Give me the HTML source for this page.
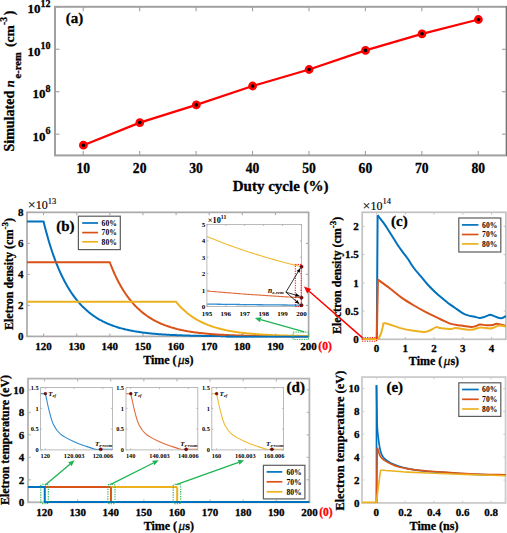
<!DOCTYPE html>
<html><head><meta charset="utf-8"><style>
html,body{margin:0;padding:0;background:#fff;}
body{width:507px;height:533px;overflow:hidden;font-family:"Liberation Serif",serif;}
svg{display:block;}
text{stroke-width:0.3px;stroke-linejoin:round;}
text:not([stroke]){stroke:#000;}
</style></head><body>
<svg width="507" height="533" viewBox="0 0 507 533" font-family="Liberation Serif, serif"><line x1="83.22" y1="155.4" x2="83.22" y2="150.9" stroke="#a0a0a0" stroke-width="1.1" />
<line x1="83.22" y1="6.8" x2="83.22" y2="11.3" stroke="#a0a0a0" stroke-width="1.1" />
<line x1="139.66" y1="155.4" x2="139.66" y2="150.9" stroke="#a0a0a0" stroke-width="1.1" />
<line x1="139.66" y1="6.8" x2="139.66" y2="11.3" stroke="#a0a0a0" stroke-width="1.1" />
<line x1="196.09" y1="155.4" x2="196.09" y2="150.9" stroke="#a0a0a0" stroke-width="1.1" />
<line x1="196.09" y1="6.8" x2="196.09" y2="11.3" stroke="#a0a0a0" stroke-width="1.1" />
<line x1="252.53" y1="155.4" x2="252.53" y2="150.9" stroke="#a0a0a0" stroke-width="1.1" />
<line x1="252.53" y1="6.8" x2="252.53" y2="11.3" stroke="#a0a0a0" stroke-width="1.1" />
<line x1="308.97" y1="155.4" x2="308.97" y2="150.9" stroke="#a0a0a0" stroke-width="1.1" />
<line x1="308.97" y1="6.8" x2="308.97" y2="11.3" stroke="#a0a0a0" stroke-width="1.1" />
<line x1="365.41" y1="155.4" x2="365.41" y2="150.9" stroke="#a0a0a0" stroke-width="1.1" />
<line x1="365.41" y1="6.8" x2="365.41" y2="11.3" stroke="#a0a0a0" stroke-width="1.1" />
<line x1="421.84" y1="155.4" x2="421.84" y2="150.9" stroke="#a0a0a0" stroke-width="1.1" />
<line x1="421.84" y1="6.8" x2="421.84" y2="11.3" stroke="#a0a0a0" stroke-width="1.1" />
<line x1="478.28" y1="155.4" x2="478.28" y2="150.9" stroke="#a0a0a0" stroke-width="1.1" />
<line x1="478.28" y1="6.8" x2="478.28" y2="11.3" stroke="#a0a0a0" stroke-width="1.1" />
<line x1="55" y1="134.17" x2="59.5" y2="134.17" stroke="#a0a0a0" stroke-width="1.1" />
<line x1="506.5" y1="134.17" x2="502" y2="134.17" stroke="#a0a0a0" stroke-width="1.1" />
<line x1="55" y1="91.71" x2="59.5" y2="91.71" stroke="#a0a0a0" stroke-width="1.1" />
<line x1="506.5" y1="91.71" x2="502" y2="91.71" stroke="#a0a0a0" stroke-width="1.1" />
<line x1="55" y1="49.26" x2="59.5" y2="49.26" stroke="#a0a0a0" stroke-width="1.1" />
<line x1="506.5" y1="49.26" x2="502" y2="49.26" stroke="#a0a0a0" stroke-width="1.1" />
<line x1="55" y1="6.8" x2="59.5" y2="6.8" stroke="#a0a0a0" stroke-width="1.1" />
<line x1="506.5" y1="6.8" x2="502" y2="6.8" stroke="#a0a0a0" stroke-width="1.1" />
<rect x="55" y="6.8" width="451.5" height="148.6" fill="none" stroke="#a0a0a0" stroke-width="2.0" />
<line x1="506.5" y1="6" x2="506.5" y2="156.2" stroke="#747474" stroke-width="1" />
<text x="83.22" y="172.9" font-size="13.6" text-anchor="middle" font-weight="bold" font-style="normal" fill="#000" stroke="#000" >10</text>
<text x="139.66" y="172.9" font-size="13.6" text-anchor="middle" font-weight="bold" font-style="normal" fill="#000" stroke="#000" >20</text>
<text x="196.09" y="172.9" font-size="13.6" text-anchor="middle" font-weight="bold" font-style="normal" fill="#000" stroke="#000" >30</text>
<text x="252.53" y="172.9" font-size="13.6" text-anchor="middle" font-weight="bold" font-style="normal" fill="#000" stroke="#000" >40</text>
<text x="308.97" y="172.9" font-size="13.6" text-anchor="middle" font-weight="bold" font-style="normal" fill="#000" stroke="#000" >50</text>
<text x="365.41" y="172.9" font-size="13.6" text-anchor="middle" font-weight="bold" font-style="normal" fill="#000" stroke="#000" >60</text>
<text x="421.84" y="172.9" font-size="13.6" text-anchor="middle" font-weight="bold" font-style="normal" fill="#000" stroke="#000" >70</text>
<text x="478.28" y="172.9" font-size="13.6" text-anchor="middle" font-weight="bold" font-style="normal" fill="#000" stroke="#000" >80</text>
<text x="50.6" y="140.77" font-size="13" text-anchor="end" font-weight="bold">10<tspan font-size="10" dy="-6.8">6</tspan></text>
<text x="50.6" y="98.31" font-size="13" text-anchor="end" font-weight="bold">10<tspan font-size="10" dy="-6.8">8</tspan></text>
<text x="50.6" y="55.86" font-size="13" text-anchor="end" font-weight="bold">10<tspan font-size="10" dy="-6.8">10</tspan></text>
<text x="50.6" y="13.4" font-size="13" text-anchor="end" font-weight="bold">10<tspan font-size="10" dy="-6.8">12</tspan></text>
<text x="280.7" y="191.2" font-size="15" text-anchor="middle" font-weight="bold" font-style="normal" fill="#000" stroke="#000" >Duty cycle (%)</text>
<polyline points="83.4,145.2 139.8,122.6 196.3,104.9 252.6,86 309.1,69.5 365.5,50.4 422,33.8 478.4,19.5" fill="none" stroke="#FF0000" stroke-width="2.3" stroke-linejoin="round" stroke-linecap="butt" />
<circle cx="83.4" cy="145.2" r="3.1" fill="#000" stroke="#FF0000" stroke-width="2.6"/>
<circle cx="139.8" cy="122.6" r="3.1" fill="#000" stroke="#FF0000" stroke-width="2.6"/>
<circle cx="196.3" cy="104.9" r="3.1" fill="#000" stroke="#FF0000" stroke-width="2.6"/>
<circle cx="252.6" cy="86" r="3.1" fill="#000" stroke="#FF0000" stroke-width="2.6"/>
<circle cx="309.1" cy="69.5" r="3.1" fill="#000" stroke="#FF0000" stroke-width="2.6"/>
<circle cx="365.5" cy="50.4" r="3.1" fill="#000" stroke="#FF0000" stroke-width="2.6"/>
<circle cx="422" cy="33.8" r="3.1" fill="#000" stroke="#FF0000" stroke-width="2.6"/>
<circle cx="478.4" cy="19.5" r="3.1" fill="#000" stroke="#FF0000" stroke-width="2.6"/>
<text x="65.8" y="22.7" font-size="15" text-anchor="start" font-weight="bold" font-style="normal" fill="#000" stroke="#000" >(a)</text>
<text transform="translate(14.1,151.5) rotate(-90)" font-size="14" font-weight="bold" font-style="normal">Simulated</text>
<text transform="translate(14.1,87.3) rotate(-90)" font-size="12.5" font-weight="bold" font-style="italic">n</text>
<text transform="translate(20.6,78.4) rotate(-90)" font-size="10.5" font-weight="bold" font-style="normal">e-rem</text>
<text transform="translate(14,47) rotate(-90)" font-size="13.5" font-weight="bold" font-style="normal">(cm</text>
<text transform="translate(7.4,25) rotate(-90)" font-size="9.5" font-weight="bold" font-style="normal">-3</text>
<text transform="translate(14,15.3) rotate(-90)" font-size="14" font-weight="bold" font-style="normal">)</text>
<line x1="43.56" y1="336.4" x2="43.56" y2="333.6" stroke="#aaaaaa" stroke-width="1.1" />
<line x1="43.56" y1="212.35" x2="43.56" y2="215.15" stroke="#aaaaaa" stroke-width="1.1" />
<line x1="76.69" y1="336.4" x2="76.69" y2="333.6" stroke="#aaaaaa" stroke-width="1.1" />
<line x1="76.69" y1="212.35" x2="76.69" y2="215.15" stroke="#aaaaaa" stroke-width="1.1" />
<line x1="109.82" y1="336.4" x2="109.82" y2="333.6" stroke="#aaaaaa" stroke-width="1.1" />
<line x1="109.82" y1="212.35" x2="109.82" y2="215.15" stroke="#aaaaaa" stroke-width="1.1" />
<line x1="142.95" y1="336.4" x2="142.95" y2="333.6" stroke="#aaaaaa" stroke-width="1.1" />
<line x1="142.95" y1="212.35" x2="142.95" y2="215.15" stroke="#aaaaaa" stroke-width="1.1" />
<line x1="176.08" y1="336.4" x2="176.08" y2="333.6" stroke="#aaaaaa" stroke-width="1.1" />
<line x1="176.08" y1="212.35" x2="176.08" y2="215.15" stroke="#aaaaaa" stroke-width="1.1" />
<line x1="209.21" y1="336.4" x2="209.21" y2="333.6" stroke="#aaaaaa" stroke-width="1.1" />
<line x1="209.21" y1="212.35" x2="209.21" y2="215.15" stroke="#aaaaaa" stroke-width="1.1" />
<line x1="242.34" y1="336.4" x2="242.34" y2="333.6" stroke="#aaaaaa" stroke-width="1.1" />
<line x1="242.34" y1="212.35" x2="242.34" y2="215.15" stroke="#aaaaaa" stroke-width="1.1" />
<line x1="275.47" y1="336.4" x2="275.47" y2="333.6" stroke="#aaaaaa" stroke-width="1.1" />
<line x1="275.47" y1="212.35" x2="275.47" y2="215.15" stroke="#aaaaaa" stroke-width="1.1" />
<line x1="308.6" y1="336.4" x2="308.6" y2="333.6" stroke="#aaaaaa" stroke-width="1.1" />
<line x1="308.6" y1="212.35" x2="308.6" y2="215.15" stroke="#aaaaaa" stroke-width="1.1" />
<line x1="27" y1="336.4" x2="29.8" y2="336.4" stroke="#aaaaaa" stroke-width="1.1" />
<line x1="308.6" y1="336.4" x2="305.8" y2="336.4" stroke="#aaaaaa" stroke-width="1.1" />
<line x1="27" y1="305.39" x2="29.8" y2="305.39" stroke="#aaaaaa" stroke-width="1.1" />
<line x1="308.6" y1="305.39" x2="305.8" y2="305.39" stroke="#aaaaaa" stroke-width="1.1" />
<line x1="27" y1="274.38" x2="29.8" y2="274.38" stroke="#aaaaaa" stroke-width="1.1" />
<line x1="308.6" y1="274.38" x2="305.8" y2="274.38" stroke="#aaaaaa" stroke-width="1.1" />
<line x1="27" y1="243.36" x2="29.8" y2="243.36" stroke="#aaaaaa" stroke-width="1.1" />
<line x1="308.6" y1="243.36" x2="305.8" y2="243.36" stroke="#aaaaaa" stroke-width="1.1" />
<line x1="27" y1="212.35" x2="29.8" y2="212.35" stroke="#aaaaaa" stroke-width="1.1" />
<line x1="308.6" y1="212.35" x2="305.8" y2="212.35" stroke="#aaaaaa" stroke-width="1.1" />
<rect x="27" y="212.35" width="281.6" height="124.05" fill="none" stroke="#aaaaaa" stroke-width="1.7" />
<polyline points="27,221.56 43.56,221.56 44.39,224.92 45.22,228.18 46.05,231.33 46.88,234.37 47.71,237.33 48.53,240.19 49.36,242.96 50.19,245.64 51.02,248.24 51.85,250.76 52.68,253.21 53.5,255.58 54.33,257.87 55.16,260.1 55.99,262.27 56.82,264.36 57.64,266.4 58.47,268.37 59.3,270.29 60.13,272.15 60.96,273.96 61.79,275.71 62.61,277.41 63.44,279.07 64.27,280.67 65.1,282.23 65.93,283.74 66.76,285.22 67.58,286.64 68.41,288.03 69.24,289.38 70.07,290.69 70.9,291.96 71.72,293.2 72.55,294.4 73.38,295.57 74.21,296.7 75.04,297.8 75.87,298.87 76.69,299.92 77.52,300.93 78.35,301.91 79.18,302.87 80.01,303.8 80.84,304.7 81.66,305.58 82.49,306.43 83.32,307.26 84.15,308.07 84.98,308.85 85.8,309.62 86.63,310.36 87.46,311.08 88.29,311.78 89.12,312.46 89.95,313.12 90.77,313.77 91.6,314.39 92.43,315 93.26,315.59 94.09,316.17 94.92,316.73 95.74,317.27 96.57,317.8 97.4,318.32 98.23,318.82 99.06,319.3 99.88,319.78 100.71,320.24 101.54,320.68 102.37,321.12 103.2,321.54 104.03,321.95 104.85,322.35 105.68,322.74 106.51,323.12 107.34,323.49 108.17,323.84 109,324.19 109.82,324.53 110.65,324.86 111.48,325.18 112.31,325.49 113.14,325.79 113.96,326.08 114.79,326.37 115.62,326.65 116.45,326.92 117.28,327.18 118.11,327.43 118.93,327.68 119.76,327.92 120.59,328.16 121.42,328.39 122.25,328.61 123.08,328.83 123.9,329.04 124.73,329.24 125.56,329.44 126.39,329.63 127.22,329.82 128.04,330 128.87,330.18 129.7,330.35 130.53,330.52 131.36,330.68 132.19,330.84 133.01,330.99 133.84,331.14 134.67,331.29 135.5,331.43 136.33,331.57 137.16,331.7 137.98,331.83 138.81,331.96 139.64,332.08 140.47,332.2 141.3,332.32 142.12,332.43 142.95,332.54 143.78,332.65 144.61,332.76 145.44,332.86 146.27,332.95 147.09,333.05 147.92,333.14 148.75,333.23 149.58,333.32 150.41,333.41 151.24,333.49 152.06,333.57 152.89,333.65 153.72,333.73 154.55,333.8 155.38,333.87 156.2,333.94 157.03,334.01 157.86,334.08 158.69,334.14 159.52,334.2 160.35,334.27 161.17,334.33 162,334.38 162.83,334.44 163.66,334.49 164.49,334.55 165.32,334.6 166.14,334.65 166.97,334.7 167.8,334.74 168.63,334.79 169.46,334.84 170.28,334.88 171.11,334.92 171.94,334.96 172.77,335 173.6,335.04 174.43,335.08 175.25,335.12 176.08,335.15 176.91,335.19 177.74,335.22 178.57,335.25 179.4,335.28 180.22,335.32 181.05,335.35 181.88,335.37 182.71,335.4 183.54,335.43 184.36,335.46 185.19,335.48 186.02,335.51 186.85,335.53 187.68,335.56 188.51,335.58 189.33,335.6 190.16,335.63 190.99,335.65 191.82,335.67 192.65,335.69 193.48,335.71 194.3,335.73 195.13,335.75 195.96,335.77 196.79,335.78 197.62,335.8 198.44,335.82 199.27,335.83 200.1,335.85 200.93,335.86 201.76,335.88 202.59,335.89 203.41,335.91 204.24,335.92 205.07,335.93 205.9,335.95 206.73,335.96 207.56,335.97 208.38,335.98 209.21,336 210.04,336.01 210.87,336.02 211.7,336.03 212.52,336.04 213.35,336.05 214.18,336.06 215.01,336.07 215.84,336.08 216.67,336.09 217.49,336.1 218.32,336.1 219.15,336.11 219.98,336.12 220.81,336.13 221.64,336.14 222.46,336.14 223.29,336.15 224.12,336.16 224.95,336.16 225.78,336.17 226.6,336.18 227.43,336.18 228.26,336.19 229.09,336.19 229.92,336.2 230.75,336.21 231.57,336.21 232.4,336.22 233.23,336.22 234.06,336.23 234.89,336.23 235.72,336.24 236.54,336.24 237.37,336.25 238.2,336.25 239.03,336.25 239.86,336.26 240.68,336.26 241.51,336.27 242.34,336.27 243.17,336.27 244,336.28 244.83,336.28 245.65,336.28 246.48,336.29 247.31,336.29 248.14,336.29 248.97,336.3 249.8,336.3 250.62,336.3 251.45,336.3 252.28,336.31 253.11,336.31 253.94,336.31 254.76,336.31 255.59,336.32 256.42,336.32 257.25,336.32 258.08,336.32 258.91,336.33 259.73,336.33 260.56,336.33 261.39,336.33 262.22,336.33 263.05,336.34 263.88,336.34 264.7,336.34 265.53,336.34 266.36,336.34 267.19,336.34 268.02,336.35 268.84,336.35 269.67,336.35 270.5,336.35 271.33,336.35 272.16,336.35 272.99,336.35 273.81,336.36 274.64,336.36 275.47,336.36 276.3,336.36 277.13,336.36 277.96,336.36 278.78,336.36 279.61,336.36 280.44,336.36 281.27,336.37 282.1,336.37 282.92,336.37 283.75,336.37 284.58,336.37 285.41,336.37 286.24,336.37 287.07,336.37 287.89,336.37 288.72,336.37 289.55,336.37 290.38,336.37 291.21,336.38 292.04,336.38 292.86,336.38 293.69,336.38 294.52,336.38 295.35,336.38 296.18,336.38 297,336.38 297.83,336.38 298.66,336.38 299.49,336.38 300.32,336.38 301.15,336.38 301.97,336.38 302.8,336.38 303.63,336.38 304.46,336.38 305.29,336.38 306.12,336.39 306.94,336.39 307.77,336.39 308.6,336.39" fill="none" stroke="#0072BD" stroke-width="2" stroke-linejoin="round" stroke-linecap="butt" />
<polyline points="27,262.34 109.82,262.34 110.65,264.51 111.48,266.61 112.31,268.64 113.14,270.61 113.96,272.51 114.79,274.35 115.62,276.14 116.45,277.87 117.28,279.55 118.11,281.17 118.93,282.75 119.76,284.28 120.59,285.76 121.42,287.2 122.25,288.59 123.08,289.94 123.9,291.26 124.73,292.53 125.56,293.77 126.39,294.97 127.22,296.13 128.04,297.26 128.87,298.36 129.7,299.43 130.53,300.46 131.36,301.47 132.19,302.44 133.01,303.39 133.84,304.31 134.67,305.21 135.5,306.08 136.33,306.92 137.16,307.74 137.98,308.54 138.81,309.31 139.64,310.07 140.47,310.8 141.3,311.51 142.12,312.2 142.95,312.87 143.78,313.52 144.61,314.16 145.44,314.78 146.27,315.37 147.09,315.96 147.92,316.52 148.75,317.07 149.58,317.61 150.41,318.13 151.24,318.64 152.06,319.13 152.89,319.61 153.72,320.07 154.55,320.52 155.38,320.96 156.2,321.39 157.03,321.8 157.86,322.21 158.69,322.6 159.52,322.98 160.35,323.35 161.17,323.71 162,324.06 162.83,324.41 163.66,324.74 164.49,325.06 165.32,325.37 166.14,325.68 166.97,325.98 167.8,326.26 168.63,326.54 169.46,326.82 170.28,327.08 171.11,327.34 171.94,327.59 172.77,327.83 173.6,328.07 174.43,328.3 175.25,328.53 176.08,328.74 176.91,328.96 177.74,329.16 178.57,329.36 179.4,329.56 180.22,329.75 181.05,329.93 181.88,330.11 182.71,330.28 183.54,330.45 184.36,330.62 185.19,330.78 186.02,330.93 186.85,331.09 187.68,331.23 188.51,331.38 189.33,331.52 190.16,331.65 190.99,331.78 191.82,331.91 192.65,332.03 193.48,332.16 194.3,332.27 195.13,332.39 195.96,332.5 196.79,332.61 197.62,332.71 198.44,332.81 199.27,332.91 200.1,333.01 200.93,333.1 201.76,333.2 202.59,333.29 203.41,333.37 204.24,333.46 205.07,333.54 205.9,333.62 206.73,333.69 207.56,333.77 208.38,333.84 209.21,333.91 210.04,333.98 210.87,334.05 211.7,334.11 212.52,334.18 213.35,334.24 214.18,334.3 215.01,334.36 215.84,334.41 216.67,334.47 217.49,334.52 218.32,334.58 219.15,334.63 219.98,334.68 220.81,334.72 221.64,334.77 222.46,334.82 223.29,334.86 224.12,334.9 224.95,334.94 225.78,334.98 226.6,335.02 227.43,335.06 228.26,335.1 229.09,335.14 229.92,335.17 230.75,335.2 231.57,335.24 232.4,335.27 233.23,335.3 234.06,335.33 234.89,335.36 235.72,335.39 236.54,335.42 237.37,335.45 238.2,335.47 239.03,335.5 239.86,335.52 240.68,335.55 241.51,335.57 242.34,335.59 243.17,335.62 244,335.64 244.83,335.66 245.65,335.68 246.48,335.7 247.31,335.72 248.14,335.74 248.97,335.76 249.8,335.78 250.62,335.79 251.45,335.81 252.28,335.83 253.11,335.84 253.94,335.86 254.76,335.87 255.59,335.89 256.42,335.9 257.25,335.92 258.08,335.93 258.91,335.94 259.73,335.95 260.56,335.97 261.39,335.98 262.22,335.99 263.05,336 263.88,336.01 264.7,336.02 265.53,336.03 266.36,336.04 267.19,336.05 268.02,336.06 268.84,336.07 269.67,336.08 270.5,336.09 271.33,336.1 272.16,336.11 272.99,336.12 273.81,336.12 274.64,336.13 275.47,336.14 276.3,336.15 277.13,336.15 277.96,336.16 278.78,336.17 279.61,336.17 280.44,336.18 281.27,336.19 282.1,336.19 282.92,336.2 283.75,336.2 284.58,336.21 285.41,336.21 286.24,336.22 287.07,336.22 287.89,336.23 288.72,336.23 289.55,336.24 290.38,336.24 291.21,336.25 292.04,336.25 292.86,336.26 293.69,336.26 294.52,336.26 295.35,336.27 296.18,336.27 297,336.28 297.83,336.28 298.66,336.28 299.49,336.29 300.32,336.29 301.15,336.29 301.97,336.29 302.8,336.3 303.63,336.3 304.46,336.3 305.29,336.31 306.12,336.31 306.94,336.31 307.77,336.31 308.6,336.32" fill="none" stroke="#D95319" stroke-width="2" stroke-linejoin="round" stroke-linecap="butt" />
<polyline points="27,301.81 176.08,301.81 176.91,302.82 177.74,303.8 178.57,304.75 179.4,305.67 180.22,306.55 181.05,307.42 181.88,308.25 182.71,309.06 183.54,309.84 184.36,310.6 185.19,311.34 186.02,312.05 186.85,312.74 187.68,313.42 188.51,314.07 189.33,314.7 190.16,315.31 190.99,315.91 191.82,316.49 192.65,317.05 193.48,317.59 194.3,318.12 195.13,318.63 195.96,319.13 196.79,319.61 197.62,320.08 198.44,320.54 199.27,320.98 200.1,321.41 200.93,321.83 201.76,322.24 202.59,322.63 203.41,323.01 204.24,323.39 205.07,323.75 205.9,324.1 206.73,324.44 207.56,324.77 208.38,325.1 209.21,325.41 210.04,325.71 210.87,326.01 211.7,326.3 212.52,326.58 213.35,326.85 214.18,327.12 215.01,327.37 215.84,327.62 216.67,327.87 217.49,328.1 218.32,328.33 219.15,328.55 219.98,328.77 220.81,328.98 221.64,329.19 222.46,329.39 223.29,329.58 224.12,329.77 224.95,329.95 225.78,330.13 226.6,330.31 227.43,330.47 228.26,330.64 229.09,330.8 229.92,330.95 230.75,331.1 231.57,331.25 232.4,331.39 233.23,331.53 234.06,331.67 234.89,331.8 235.72,331.92 236.54,332.05 237.37,332.17 238.2,332.28 239.03,332.4 239.86,332.51 240.68,332.62 241.51,332.72 242.34,332.82 243.17,332.92 244,333.02 244.83,333.11 245.65,333.2 246.48,333.29 247.31,333.38 248.14,333.46 248.97,333.54 249.8,333.62 250.62,333.7 251.45,333.77 252.28,333.85 253.11,333.92 253.94,333.99 254.76,334.05 255.59,334.12 256.42,334.18 257.25,334.24 258.08,334.3 258.91,334.36 259.73,334.42 260.56,334.47 261.39,334.53 262.22,334.58 263.05,334.63 263.88,334.68 264.7,334.73 265.53,334.77 266.36,334.82 267.19,334.86 268.02,334.9 268.84,334.95 269.67,334.99 270.5,335.02 271.33,335.06 272.16,335.1 272.99,335.14 273.81,335.17 274.64,335.21 275.47,335.24 276.3,335.27 277.13,335.3 277.96,335.33 278.78,335.36 279.61,335.39 280.44,335.42 281.27,335.45 282.1,335.47 282.92,335.5 283.75,335.52 284.58,335.55 285.41,335.57 286.24,335.59 287.07,335.62 287.89,335.64 288.72,335.66 289.55,335.68 290.38,335.7 291.21,335.72 292.04,335.74 292.86,335.76 293.69,335.78 294.52,335.79 295.35,335.81 296.18,335.83 297,335.84 297.83,335.86 298.66,335.87 299.49,335.89 300.32,335.9 301.15,335.92 301.97,335.93 302.8,335.94 303.63,335.95 304.46,335.97 305.29,335.98 306.12,335.99 306.94,336 307.77,336.01 308.6,336.02" fill="none" stroke="#EDB120" stroke-width="2" stroke-linejoin="round" stroke-linecap="butt" />
<polyline points="225.78,336.47 227.43,336.48 229.09,336.49 230.75,336.51 232.4,336.52 234.06,336.53 235.72,336.54 237.37,336.55 239.03,336.55 240.68,336.56 242.34,336.57 244,336.58 245.65,336.58 247.31,336.59 248.97,336.6 250.62,336.6 252.28,336.61 253.94,336.61 255.59,336.62 257.25,336.62 258.91,336.63 260.56,336.63 262.22,336.63 263.88,336.64 265.53,336.64 267.19,336.64 268.84,336.65 270.5,336.65 272.16,336.65 273.81,336.66 275.47,336.66 277.13,336.66 278.78,336.66 280.44,336.66 282.1,336.67 283.75,336.67 285.41,336.67 287.07,336.67 288.72,336.67 290.38,336.67 292.04,336.68 293.69,336.68 295.35,336.68 297,336.68 298.66,336.68 300.32,336.68 301.97,336.68 303.63,336.68 305.29,336.68 306.94,336.69 308.6,336.69" fill="none" stroke="#0072BD" stroke-width="1.8" stroke-linejoin="round" stroke-linecap="butt" />
<text x="43.56" y="349.8" font-size="11" text-anchor="middle" font-weight="bold" font-style="normal" fill="#000" stroke="#000" >120</text>
<text x="76.69" y="349.8" font-size="11" text-anchor="middle" font-weight="bold" font-style="normal" fill="#000" stroke="#000" >130</text>
<text x="109.82" y="349.8" font-size="11" text-anchor="middle" font-weight="bold" font-style="normal" fill="#000" stroke="#000" >140</text>
<text x="142.95" y="349.8" font-size="11" text-anchor="middle" font-weight="bold" font-style="normal" fill="#000" stroke="#000" >150</text>
<text x="176.08" y="349.8" font-size="11" text-anchor="middle" font-weight="bold" font-style="normal" fill="#000" stroke="#000" >160</text>
<text x="209.21" y="349.8" font-size="11" text-anchor="middle" font-weight="bold" font-style="normal" fill="#000" stroke="#000" >170</text>
<text x="242.34" y="349.8" font-size="11" text-anchor="middle" font-weight="bold" font-style="normal" fill="#000" stroke="#000" >180</text>
<text x="275.47" y="349.8" font-size="11" text-anchor="middle" font-weight="bold" font-style="normal" fill="#000" stroke="#000" >190</text>
<text x="308.6" y="349.8" font-size="11" text-anchor="middle" font-weight="bold" font-style="normal" fill="#000" stroke="#000" >200</text>
<text x="23.4" y="340.2" font-size="11" text-anchor="end" font-weight="bold" font-style="normal" fill="#000" stroke="#000" >0</text>
<text x="23.4" y="309.19" font-size="11" text-anchor="end" font-weight="bold" font-style="normal" fill="#000" stroke="#000" >2</text>
<text x="23.4" y="278.18" font-size="11" text-anchor="end" font-weight="bold" font-style="normal" fill="#000" stroke="#000" >4</text>
<text x="23.4" y="247.16" font-size="11" text-anchor="end" font-weight="bold" font-style="normal" fill="#000" stroke="#000" >6</text>
<text x="23.4" y="216.15" font-size="11" text-anchor="end" font-weight="bold" font-style="normal" fill="#000" stroke="#000" >8</text>
<text x="318.3" y="350.1" font-size="11.6" text-anchor="start" font-weight="bold" font-style="normal" fill="#FF0000" stroke="#FF0000" >(0)</text>
<text x="27.9" y="209.2" font-size="12" font-weight="normal" style="stroke-width:0.15px"><tspan font-size="13.2">×</tspan><tspan dx="0.3">10</tspan><tspan font-size="8.5" dy="-5.6" dx="0">13</tspan></text>
<text x="56.2" y="231.3" font-size="15" text-anchor="start" font-weight="bold" font-style="normal" fill="#000" stroke="#000" >(b)</text>
<text x="168.3" y="363.9" font-size="12" text-anchor="middle" font-weight="bold" font-style="normal" fill="#000" stroke="#000" >Time (<tspan font-style="italic" font-weight="normal" font-size="13" dx="1.3">μ</tspan><tspan dx="0.3">s)</tspan></text>
<text transform="translate(13.0,330.0) rotate(-90)" font-size="12" font-weight="bold">Eletron density (cm<tspan font-size="9" dy="-5.4">-3</tspan><tspan dy="5.4">)</tspan></text>
<rect x="78.4" y="216.2" width="41.9" height="33.4" fill="#fff" stroke="#5c5c5c" stroke-width="1.2" />
<line x1="82.2" y1="223" x2="98.1" y2="223" stroke="#0072BD" stroke-width="1.7" />
<text x="101.6" y="225.7" font-size="7.6" text-anchor="start" font-weight="bold" font-style="normal" fill="#000" stroke="#000" style="stroke:none" style="stroke-width:0.2px">60%</text>
<line x1="82.2" y1="232.6" x2="98.1" y2="232.6" stroke="#D95319" stroke-width="1.7" />
<text x="101.6" y="235.3" font-size="7.6" text-anchor="start" font-weight="bold" font-style="normal" fill="#000" stroke="#000" style="stroke:none" style="stroke-width:0.2px">70%</text>
<line x1="82.2" y1="241.8" x2="98.1" y2="241.8" stroke="#EDB120" stroke-width="1.7" />
<text x="101.6" y="244.5" font-size="7.6" text-anchor="start" font-weight="bold" font-style="normal" fill="#000" stroke="#000" style="stroke:none" style="stroke-width:0.2px">80%</text>
<rect x="206.9" y="224.4" width="94.6" height="82.2" fill="#fff" stroke="none" stroke-width="0" />
<polyline points="206.9,304.06 208.79,304.09 210.68,304.12 212.58,304.14 214.47,304.17 216.36,304.2 218.25,304.23 220.14,304.25 222.04,304.28 223.93,304.3 225.82,304.33 227.71,304.36 229.6,304.38 231.5,304.41 233.39,304.43 235.28,304.46 237.17,304.48 239.06,304.5 240.96,304.53 242.85,304.55 244.74,304.57 246.63,304.6 248.52,304.62 250.42,304.64 252.31,304.66 254.2,304.68 256.09,304.71 257.98,304.73 259.88,304.75 261.77,304.77 263.66,304.79 265.55,304.81 267.44,304.83 269.34,304.85 271.23,304.87 273.12,304.89 275.01,304.91 276.9,304.93 278.8,304.95 280.69,304.96 282.58,304.98 284.47,305 286.36,305.02 288.26,305.04 290.15,305.05 292.04,305.07 293.93,305.09 295.82,305.11 297.72,305.12 299.61,305.14 301.5,305.16" fill="none" stroke="#2f8ad0" stroke-width="1.3" stroke-linejoin="round" stroke-linecap="butt" />
<polyline points="206.9,290.9 208.79,291.08 210.68,291.25 212.58,291.43 214.47,291.6 216.36,291.76 218.25,291.93 220.14,292.1 222.04,292.26 223.93,292.42 225.82,292.58 227.71,292.74 229.6,292.89 231.5,293.05 233.39,293.2 235.28,293.35 237.17,293.5 239.06,293.65 240.96,293.79 242.85,293.93 244.74,294.08 246.63,294.22 248.52,294.36 250.42,294.49 252.31,294.63 254.2,294.76 256.09,294.9 257.98,295.03 259.88,295.16 261.77,295.29 263.66,295.41 265.55,295.54 267.44,295.66 269.34,295.79 271.23,295.91 273.12,296.03 275.01,296.15 276.9,296.27 278.8,296.38 280.69,296.5 282.58,296.61 284.47,296.72 286.36,296.83 288.26,296.94 290.15,297.05 292.04,297.16 293.93,297.26 295.82,297.37 297.72,297.47 299.61,297.58 301.5,297.68" fill="none" stroke="#E06A3A" stroke-width="1.1" stroke-linejoin="round" stroke-linecap="butt" />
<polyline points="206.9,236.49 208.79,237.28 210.68,238.06 212.58,238.83 214.47,239.59 216.36,240.34 218.25,241.08 220.14,241.82 222.04,242.54 223.93,243.26 225.82,243.97 227.71,244.67 229.6,245.37 231.5,246.05 233.39,246.73 235.28,247.4 237.17,248.07 239.06,248.72 240.96,249.37 242.85,250.02 244.74,250.65 246.63,251.28 248.52,251.9 250.42,252.51 252.31,253.12 254.2,253.72 256.09,254.31 257.98,254.9 259.88,255.48 261.77,256.05 263.66,256.62 265.55,257.18 267.44,257.73 269.34,258.28 271.23,258.82 273.12,259.36 275.01,259.89 276.9,260.41 278.8,260.93 280.69,261.44 282.58,261.95 284.47,262.45 286.36,262.95 288.26,263.44 290.15,263.92 292.04,264.4 293.93,264.87 295.82,265.34 297.72,265.8 299.61,266.26 301.5,266.71" fill="none" stroke="#F0B933" stroke-width="1.1" stroke-linejoin="round" stroke-linecap="butt" />
<line x1="206.9" y1="306.6" x2="206.9" y2="305" stroke="#aaaaaa" stroke-width="0.8" />
<line x1="206.9" y1="224.4" x2="206.9" y2="226" stroke="#aaaaaa" stroke-width="0.8" />
<line x1="225.82" y1="306.6" x2="225.82" y2="305" stroke="#aaaaaa" stroke-width="0.8" />
<line x1="225.82" y1="224.4" x2="225.82" y2="226" stroke="#aaaaaa" stroke-width="0.8" />
<line x1="244.74" y1="306.6" x2="244.74" y2="305" stroke="#aaaaaa" stroke-width="0.8" />
<line x1="244.74" y1="224.4" x2="244.74" y2="226" stroke="#aaaaaa" stroke-width="0.8" />
<line x1="263.66" y1="306.6" x2="263.66" y2="305" stroke="#aaaaaa" stroke-width="0.8" />
<line x1="263.66" y1="224.4" x2="263.66" y2="226" stroke="#aaaaaa" stroke-width="0.8" />
<line x1="282.58" y1="306.6" x2="282.58" y2="305" stroke="#aaaaaa" stroke-width="0.8" />
<line x1="282.58" y1="224.4" x2="282.58" y2="226" stroke="#aaaaaa" stroke-width="0.8" />
<line x1="301.5" y1="306.6" x2="301.5" y2="305" stroke="#aaaaaa" stroke-width="0.8" />
<line x1="301.5" y1="224.4" x2="301.5" y2="226" stroke="#aaaaaa" stroke-width="0.8" />
<line x1="206.9" y1="306.6" x2="208.5" y2="306.6" stroke="#aaaaaa" stroke-width="0.8" />
<line x1="301.5" y1="306.6" x2="299.9" y2="306.6" stroke="#aaaaaa" stroke-width="0.8" />
<line x1="206.9" y1="290.16" x2="208.5" y2="290.16" stroke="#aaaaaa" stroke-width="0.8" />
<line x1="301.5" y1="290.16" x2="299.9" y2="290.16" stroke="#aaaaaa" stroke-width="0.8" />
<line x1="206.9" y1="273.72" x2="208.5" y2="273.72" stroke="#aaaaaa" stroke-width="0.8" />
<line x1="301.5" y1="273.72" x2="299.9" y2="273.72" stroke="#aaaaaa" stroke-width="0.8" />
<line x1="206.9" y1="257.28" x2="208.5" y2="257.28" stroke="#aaaaaa" stroke-width="0.8" />
<line x1="301.5" y1="257.28" x2="299.9" y2="257.28" stroke="#aaaaaa" stroke-width="0.8" />
<line x1="206.9" y1="240.84" x2="208.5" y2="240.84" stroke="#aaaaaa" stroke-width="0.8" />
<line x1="301.5" y1="240.84" x2="299.9" y2="240.84" stroke="#aaaaaa" stroke-width="0.8" />
<line x1="206.9" y1="224.4" x2="208.5" y2="224.4" stroke="#aaaaaa" stroke-width="0.8" />
<line x1="301.5" y1="224.4" x2="299.9" y2="224.4" stroke="#aaaaaa" stroke-width="0.8" />
<rect x="206.9" y="224.4" width="94.6" height="82.2" fill="none" stroke="#aaaaaa" stroke-width="0.8" />
<text x="206.9" y="315.9" font-size="7" text-anchor="middle" font-weight="bold" font-style="normal" fill="#000" stroke="#000" style="stroke:none" >195</text>
<text x="225.82" y="315.9" font-size="7" text-anchor="middle" font-weight="bold" font-style="normal" fill="#000" stroke="#000" style="stroke:none" >196</text>
<text x="244.74" y="315.9" font-size="7" text-anchor="middle" font-weight="bold" font-style="normal" fill="#000" stroke="#000" style="stroke:none" >197</text>
<text x="263.66" y="315.9" font-size="7" text-anchor="middle" font-weight="bold" font-style="normal" fill="#000" stroke="#000" style="stroke:none" >198</text>
<text x="282.58" y="315.9" font-size="7" text-anchor="middle" font-weight="bold" font-style="normal" fill="#000" stroke="#000" style="stroke:none" >199</text>
<text x="301.5" y="315.9" font-size="7" text-anchor="middle" font-weight="bold" font-style="normal" fill="#000" stroke="#000" style="stroke:none" >200</text>
<text x="205.3" y="309" font-size="7" text-anchor="end" font-weight="bold" font-style="normal" fill="#000" stroke="#000" style="stroke:none" >0</text>
<text x="205.3" y="292.56" font-size="7" text-anchor="end" font-weight="bold" font-style="normal" fill="#000" stroke="#000" style="stroke:none" >1</text>
<text x="205.3" y="276.12" font-size="7" text-anchor="end" font-weight="bold" font-style="normal" fill="#000" stroke="#000" style="stroke:none" >2</text>
<text x="205.3" y="259.68" font-size="7" text-anchor="end" font-weight="bold" font-style="normal" fill="#000" stroke="#000" style="stroke:none" >3</text>
<text x="205.3" y="243.24" font-size="7" text-anchor="end" font-weight="bold" font-style="normal" fill="#000" stroke="#000" style="stroke:none" >4</text>
<text x="205.3" y="226.8" font-size="7" text-anchor="end" font-weight="bold" font-style="normal" fill="#000" stroke="#000" style="stroke:none" >5</text>
<text x="207.8" y="222.9" font-size="8.3" font-weight="bold" style="stroke:none">×10<tspan font-size="5.8" dy="-4">11</tspan></text>
<rect x="295.3" y="264.4" width="5.9" height="42.2" fill="none" stroke="#FF0000" stroke-width="1" stroke-dasharray="1.2 1.2"/>
<line x1="285.9" y1="292.2" x2="300.3" y2="268.2" stroke="#000" stroke-width="0.8" />
<polygon points="300.3,268.2 299.68,272.73 296.6,270.88" fill="#000"/>
<line x1="285.9" y1="292.2" x2="299.7" y2="296.2" stroke="#000" stroke-width="0.8" />
<polygon points="299.7,296.2 295.16,296.76 296.17,293.3" fill="#000"/>
<line x1="285.9" y1="292.2" x2="299.4" y2="304" stroke="#000" stroke-width="0.8" />
<polygon points="299.4,304 295.05,302.59 297.42,299.88" fill="#000"/>
<circle cx="301.5" cy="266.71" r="1.6" fill="#8B0A0A" stroke="#300" stroke-width="0.5"/>
<circle cx="301.5" cy="297.68" r="1.6" fill="#8B0A0A" stroke="#300" stroke-width="0.5"/>
<circle cx="301.5" cy="305.16" r="1.6" fill="#8B0A0A" stroke="#300" stroke-width="0.5"/>
<text x="268.0" y="293.0" font-size="7.5" font-weight="bold" font-style="italic" style="stroke:none">n<tspan font-size="4.8" dy="1.2" font-style="italic">e-rem</tspan></text>
<rect x="293.1" y="332.1" width="15.6" height="7.3" fill="none" stroke="#1DB553" stroke-width="1" stroke-dasharray="1.3 1.1"/>
<line x1="304.4" y1="331.9" x2="260.68" y2="319.71" stroke="#1DB553" stroke-width="1.3" />
<polygon points="254.9,318.1 261.38,317.21 259.98,322.22" fill="#1DB553"/>
<line x1="376.57" y1="339.3" x2="376.57" y2="337.1" stroke="#c2c2c2" stroke-width="1.1" />
<line x1="376.57" y1="212.3" x2="376.57" y2="214.5" stroke="#c2c2c2" stroke-width="1.1" />
<line x1="405.31" y1="339.3" x2="405.31" y2="337.1" stroke="#c2c2c2" stroke-width="1.1" />
<line x1="405.31" y1="212.3" x2="405.31" y2="214.5" stroke="#c2c2c2" stroke-width="1.1" />
<line x1="434.05" y1="339.3" x2="434.05" y2="337.1" stroke="#c2c2c2" stroke-width="1.1" />
<line x1="434.05" y1="212.3" x2="434.05" y2="214.5" stroke="#c2c2c2" stroke-width="1.1" />
<line x1="462.79" y1="339.3" x2="462.79" y2="337.1" stroke="#c2c2c2" stroke-width="1.1" />
<line x1="462.79" y1="212.3" x2="462.79" y2="214.5" stroke="#c2c2c2" stroke-width="1.1" />
<line x1="491.53" y1="339.3" x2="491.53" y2="337.1" stroke="#c2c2c2" stroke-width="1.1" />
<line x1="491.53" y1="212.3" x2="491.53" y2="214.5" stroke="#c2c2c2" stroke-width="1.1" />
<line x1="362.2" y1="339.3" x2="364.4" y2="339.3" stroke="#c2c2c2" stroke-width="1.1" />
<line x1="505.9" y1="339.3" x2="503.7" y2="339.3" stroke="#c2c2c2" stroke-width="1.1" />
<line x1="362.2" y1="311.08" x2="364.4" y2="311.08" stroke="#c2c2c2" stroke-width="1.1" />
<line x1="505.9" y1="311.08" x2="503.7" y2="311.08" stroke="#c2c2c2" stroke-width="1.1" />
<line x1="362.2" y1="282.86" x2="364.4" y2="282.86" stroke="#c2c2c2" stroke-width="1.1" />
<line x1="505.9" y1="282.86" x2="503.7" y2="282.86" stroke="#c2c2c2" stroke-width="1.1" />
<line x1="362.2" y1="254.63" x2="364.4" y2="254.63" stroke="#c2c2c2" stroke-width="1.1" />
<line x1="505.9" y1="254.63" x2="503.7" y2="254.63" stroke="#c2c2c2" stroke-width="1.1" />
<line x1="362.2" y1="226.41" x2="364.4" y2="226.41" stroke="#c2c2c2" stroke-width="1.1" />
<line x1="505.9" y1="226.41" x2="503.7" y2="226.41" stroke="#c2c2c2" stroke-width="1.1" />
<rect x="362.2" y="212.3" width="143.7" height="127" fill="none" stroke="#c2c2c2" stroke-width="1.7" />
<polyline points="362.2,339.1 376.8,339.1 377.6,215.2" fill="none" stroke="#0072BD" stroke-width="2" stroke-linejoin="round" stroke-linecap="butt" />
<path d="M377.6,215.2 C378.57,216.45 381.65,220.28 383.4,222.7 C385.15,225.12 386.53,227.28 388.1,229.7 C389.67,232.12 391.23,234.7 392.8,237.2 C394.37,239.7 395.93,242.35 397.5,244.7 C399.07,247.05 400.48,248.95 402.2,251.3 C403.92,253.65 405.87,256.02 407.8,258.8 C409.73,261.58 411.65,265.1 413.8,268 C415.95,270.9 418.4,273.45 420.7,276.2 C423,278.95 425.3,281.97 427.6,284.5 C429.9,287.03 432.2,289.22 434.5,291.4 C436.8,293.58 439.1,295.63 441.4,297.6 C443.7,299.57 446,301.47 448.3,303.2 C450.6,304.93 452.9,306.4 455.2,308 C457.5,309.6 459.97,311.57 462.1,312.8 C464.23,314.03 466.05,314.77 468,315.4 C469.95,316.03 471.9,316.18 473.8,316.6 C475.7,317.02 477.77,317.8 479.4,317.9 C481.03,318 481.95,317.68 483.6,317.2 C485.25,316.72 487.88,315.32 489.3,315 C490.72,314.68 490.23,314.75 492.1,315.3 C493.97,315.85 498.2,318.18 500.5,318.3 C502.8,318.42 505,316.38 505.9,316" fill="none" stroke="#0072BD" stroke-width="2" stroke-linejoin="round" />
<polyline points="376.8,339.1 377.9,279.5" fill="none" stroke="#D95319" stroke-width="2" stroke-linejoin="round" stroke-linecap="butt" />
<path d="M377.9,279.5 C379.92,281 386.05,285.48 390,288.5 C393.95,291.52 397.6,294.77 401.6,297.6 C405.6,300.43 409.8,303 414,305.5 C418.2,308 422.47,310.35 426.8,312.6 C431.13,314.85 436.13,317.17 440,319 C443.87,320.83 446.48,322.5 450,323.6 C453.52,324.7 457.6,325.03 461.1,325.6 C464.6,326.17 468.65,326.88 471,327 C473.35,327.12 473.68,326.7 475.2,326.3 C476.72,325.9 478.22,324.78 480.1,324.6 C481.98,324.42 484.38,325.15 486.5,325.2 C488.62,325.25 491.05,325.13 492.8,324.9 C494.55,324.67 494.83,323.62 497,323.8 C499.17,323.98 504.33,325.63 505.8,326" fill="none" stroke="#D95319" stroke-width="2" stroke-linejoin="round" />
<polyline points="362.2,339 378.4,339" fill="none" stroke="#EDB120" stroke-width="2" stroke-linejoin="round" stroke-linecap="butt" />
<path d="M378.4,339 C378.83,338.08 380.23,335.67 381,333.5 C381.77,331.33 382.33,327.72 383,326 C383.67,324.28 381.9,322.8 385,323.2 C388.1,323.6 397.1,327.17 401.6,328.4 C406.1,329.63 408.33,330.02 412,330.6 C415.67,331.18 420.77,331.87 423.6,331.9 C426.43,331.93 426.88,331.6 429,330.8 C431.12,330 434.47,327.55 436.3,327.1 C438.13,326.65 437.5,327.77 440,328.1 C442.5,328.43 448.72,329.12 451.3,329.1 C453.88,329.08 452.68,327.88 455.5,328 C458.32,328.12 465.15,329.57 468.2,329.8 C471.25,330.03 471.7,329.8 473.8,329.4 C475.9,329 478.22,327.57 480.8,327.4 C483.38,327.23 487.18,328.35 489.3,328.4 C491.42,328.45 491.87,328.17 493.5,327.7 C495.13,327.23 497.05,325.78 499.1,325.6 C501.15,325.42 504.68,326.43 505.8,326.6" fill="none" stroke="#EDB120" stroke-width="2" stroke-linejoin="round" />
<text x="376.57" y="352.3" font-size="11" text-anchor="middle" font-weight="bold" font-style="normal" fill="#000" stroke="#000" >0</text>
<text x="405.31" y="352.3" font-size="11" text-anchor="middle" font-weight="bold" font-style="normal" fill="#000" stroke="#000" >1</text>
<text x="434.05" y="352.3" font-size="11" text-anchor="middle" font-weight="bold" font-style="normal" fill="#000" stroke="#000" >2</text>
<text x="462.79" y="352.3" font-size="11" text-anchor="middle" font-weight="bold" font-style="normal" fill="#000" stroke="#000" >3</text>
<text x="491.53" y="352.3" font-size="11" text-anchor="middle" font-weight="bold" font-style="normal" fill="#000" stroke="#000" >4</text>
<text x="358.7" y="343.1" font-size="11" text-anchor="end" font-weight="bold" font-style="normal" fill="#000" stroke="#000" >0</text>
<text x="358.7" y="314.88" font-size="11" text-anchor="end" font-weight="bold" font-style="normal" fill="#000" stroke="#000" >0.5</text>
<text x="358.7" y="286.66" font-size="11" text-anchor="end" font-weight="bold" font-style="normal" fill="#000" stroke="#000" >1</text>
<text x="358.7" y="258.43" font-size="11" text-anchor="end" font-weight="bold" font-style="normal" fill="#000" stroke="#000" >1.5</text>
<text x="358.7" y="230.21" font-size="11" text-anchor="end" font-weight="bold" font-style="normal" fill="#000" stroke="#000" >2</text>
<text x="362.8" y="209.6" font-size="12" font-weight="normal" style="stroke-width:0.15px"><tspan font-size="13.2">×</tspan><tspan dx="0.3">10</tspan><tspan font-size="8.5" dy="-5.6" dx="0">14</tspan></text>
<text x="391" y="226.2" font-size="15" text-anchor="start" font-weight="bold" font-style="normal" fill="#000" stroke="#000" >(c)</text>
<text x="434" y="365.4" font-size="12" text-anchor="middle" font-weight="bold" font-style="normal" fill="#000" stroke="#000" >Time (<tspan font-style="italic" font-weight="normal" font-size="13" dx="1.3">μ</tspan><tspan dx="0.3">s)</tspan></text>
<text transform="translate(341.3,334.0) rotate(-90)" font-size="12" font-weight="bold">Electron density (cm<tspan font-size="9" dy="-5.4">-3</tspan><tspan dy="5.4">)</tspan></text>
<rect x="458.8" y="218" width="42" height="34" fill="#fff" stroke="#5c5c5c" stroke-width="1.2" />
<line x1="461.9" y1="224.9" x2="478.4" y2="224.9" stroke="#0072BD" stroke-width="1.7" />
<text x="482.1" y="227.6" font-size="7.6" text-anchor="start" font-weight="bold" font-style="normal" fill="#000" stroke="#000" style="stroke:none" style="stroke-width:0.2px">60%</text>
<line x1="461.9" y1="234.5" x2="478.4" y2="234.5" stroke="#D95319" stroke-width="1.7" />
<text x="482.1" y="237.2" font-size="7.6" text-anchor="start" font-weight="bold" font-style="normal" fill="#000" stroke="#000" style="stroke:none" style="stroke-width:0.2px">70%</text>
<line x1="461.9" y1="243.9" x2="478.4" y2="243.9" stroke="#EDB120" stroke-width="1.7" />
<text x="482.1" y="246.6" font-size="7.6" text-anchor="start" font-weight="bold" font-style="normal" fill="#000" stroke="#000" style="stroke:none" style="stroke-width:0.2px">80%</text>
<rect x="362.3" y="337.6" width="14.3" height="3.6" fill="none" stroke="#FF0000" stroke-width="1" stroke-dasharray="1.2 1.2"/>
<line x1="362.3" y1="337.6" x2="309.17" y2="291.2" stroke="#FF0000" stroke-width="1.5" />
<polygon points="303.9,286.6 311.15,288.94 307.2,293.46" fill="#FF0000"/>
<line x1="44.55" y1="502.3" x2="44.55" y2="499.5" stroke="#b4b4b4" stroke-width="1.1" />
<line x1="44.55" y1="378.6" x2="44.55" y2="381.4" stroke="#b4b4b4" stroke-width="1.1" />
<line x1="77.66" y1="502.3" x2="77.66" y2="499.5" stroke="#b4b4b4" stroke-width="1.1" />
<line x1="77.66" y1="378.6" x2="77.66" y2="381.4" stroke="#b4b4b4" stroke-width="1.1" />
<line x1="110.76" y1="502.3" x2="110.76" y2="499.5" stroke="#b4b4b4" stroke-width="1.1" />
<line x1="110.76" y1="378.6" x2="110.76" y2="381.4" stroke="#b4b4b4" stroke-width="1.1" />
<line x1="143.87" y1="502.3" x2="143.87" y2="499.5" stroke="#b4b4b4" stroke-width="1.1" />
<line x1="143.87" y1="378.6" x2="143.87" y2="381.4" stroke="#b4b4b4" stroke-width="1.1" />
<line x1="176.98" y1="502.3" x2="176.98" y2="499.5" stroke="#b4b4b4" stroke-width="1.1" />
<line x1="176.98" y1="378.6" x2="176.98" y2="381.4" stroke="#b4b4b4" stroke-width="1.1" />
<line x1="210.08" y1="502.3" x2="210.08" y2="499.5" stroke="#b4b4b4" stroke-width="1.1" />
<line x1="210.08" y1="378.6" x2="210.08" y2="381.4" stroke="#b4b4b4" stroke-width="1.1" />
<line x1="243.19" y1="502.3" x2="243.19" y2="499.5" stroke="#b4b4b4" stroke-width="1.1" />
<line x1="243.19" y1="378.6" x2="243.19" y2="381.4" stroke="#b4b4b4" stroke-width="1.1" />
<line x1="276.29" y1="502.3" x2="276.29" y2="499.5" stroke="#b4b4b4" stroke-width="1.1" />
<line x1="276.29" y1="378.6" x2="276.29" y2="381.4" stroke="#b4b4b4" stroke-width="1.1" />
<line x1="309.4" y1="502.3" x2="309.4" y2="499.5" stroke="#b4b4b4" stroke-width="1.1" />
<line x1="309.4" y1="378.6" x2="309.4" y2="381.4" stroke="#b4b4b4" stroke-width="1.1" />
<line x1="28" y1="502.3" x2="30.8" y2="502.3" stroke="#b4b4b4" stroke-width="1.1" />
<line x1="309.4" y1="502.3" x2="306.6" y2="502.3" stroke="#b4b4b4" stroke-width="1.1" />
<line x1="28" y1="479.81" x2="30.8" y2="479.81" stroke="#b4b4b4" stroke-width="1.1" />
<line x1="309.4" y1="479.81" x2="306.6" y2="479.81" stroke="#b4b4b4" stroke-width="1.1" />
<line x1="28" y1="457.32" x2="30.8" y2="457.32" stroke="#b4b4b4" stroke-width="1.1" />
<line x1="309.4" y1="457.32" x2="306.6" y2="457.32" stroke="#b4b4b4" stroke-width="1.1" />
<line x1="28" y1="434.83" x2="30.8" y2="434.83" stroke="#b4b4b4" stroke-width="1.1" />
<line x1="309.4" y1="434.83" x2="306.6" y2="434.83" stroke="#b4b4b4" stroke-width="1.1" />
<line x1="28" y1="412.34" x2="30.8" y2="412.34" stroke="#b4b4b4" stroke-width="1.1" />
<line x1="309.4" y1="412.34" x2="306.6" y2="412.34" stroke="#b4b4b4" stroke-width="1.1" />
<line x1="28" y1="389.85" x2="30.8" y2="389.85" stroke="#b4b4b4" stroke-width="1.1" />
<line x1="309.4" y1="389.85" x2="306.6" y2="389.85" stroke="#b4b4b4" stroke-width="1.1" />
<rect x="28" y="378.6" width="281.4" height="123.7" fill="none" stroke="#b4b4b4" stroke-width="1.8" />
<line x1="110.76" y1="487.12" x2="176.98" y2="487.12" stroke="#EDB120" stroke-width="2" />
<line x1="177.18" y1="487.12" x2="177.18" y2="501.8" stroke="#EDB120" stroke-width="2" />
<line x1="44.55" y1="487.12" x2="110.76" y2="487.12" stroke="#D95319" stroke-width="2" />
<line x1="110.96" y1="487.12" x2="110.96" y2="501.8" stroke="#D95319" stroke-width="2" />
<polyline points="28,487.12 44.75,487.12 44.75,502 309.4,502" fill="none" stroke="#0072BD" stroke-width="2" stroke-linejoin="round" stroke-linecap="butt" />
<text x="44.55" y="516" font-size="11" text-anchor="middle" font-weight="bold" font-style="normal" fill="#000" stroke="#000" >120</text>
<text x="77.66" y="516" font-size="11" text-anchor="middle" font-weight="bold" font-style="normal" fill="#000" stroke="#000" >130</text>
<text x="110.76" y="516" font-size="11" text-anchor="middle" font-weight="bold" font-style="normal" fill="#000" stroke="#000" >140</text>
<text x="143.87" y="516" font-size="11" text-anchor="middle" font-weight="bold" font-style="normal" fill="#000" stroke="#000" >150</text>
<text x="176.98" y="516" font-size="11" text-anchor="middle" font-weight="bold" font-style="normal" fill="#000" stroke="#000" >160</text>
<text x="210.08" y="516" font-size="11" text-anchor="middle" font-weight="bold" font-style="normal" fill="#000" stroke="#000" >170</text>
<text x="243.19" y="516" font-size="11" text-anchor="middle" font-weight="bold" font-style="normal" fill="#000" stroke="#000" >180</text>
<text x="276.29" y="516" font-size="11" text-anchor="middle" font-weight="bold" font-style="normal" fill="#000" stroke="#000" >190</text>
<text x="309.4" y="516" font-size="11" text-anchor="middle" font-weight="bold" font-style="normal" fill="#000" stroke="#000" >200</text>
<text x="24.3" y="506.1" font-size="11" text-anchor="end" font-weight="bold" font-style="normal" fill="#000" stroke="#000" >0</text>
<text x="24.3" y="483.61" font-size="11" text-anchor="end" font-weight="bold" font-style="normal" fill="#000" stroke="#000" >2</text>
<text x="24.3" y="461.12" font-size="11" text-anchor="end" font-weight="bold" font-style="normal" fill="#000" stroke="#000" >4</text>
<text x="24.3" y="438.63" font-size="11" text-anchor="end" font-weight="bold" font-style="normal" fill="#000" stroke="#000" >6</text>
<text x="24.3" y="416.14" font-size="11" text-anchor="end" font-weight="bold" font-style="normal" fill="#000" stroke="#000" >8</text>
<text x="24.3" y="393.65" font-size="11" text-anchor="end" font-weight="bold" font-style="normal" fill="#000" stroke="#000" >10</text>
<text x="319.2" y="516" font-size="11.6" text-anchor="start" font-weight="bold" font-style="normal" fill="#FF0000" stroke="#FF0000" >(0)</text>
<text x="168.8" y="530.1" font-size="12" text-anchor="middle" font-weight="bold" font-style="normal" fill="#000" stroke="#000" >Time (<tspan font-style="italic" font-weight="normal" font-size="13" dx="1.3">μ</tspan><tspan dx="0.3">s)</tspan></text>
<text transform="translate(8.8,505.1) rotate(-90)" font-size="12" font-weight="bold">Eletron temperature (eV)</text>
<text x="286.6" y="392.1" font-size="15" text-anchor="start" font-weight="bold" font-style="normal" fill="#000" stroke="#000" >(d)</text>
<rect x="263.4" y="465.3" width="41.5" height="33.6" fill="#fff" stroke="#5c5c5c" stroke-width="1.2" />
<line x1="266.6" y1="471.9" x2="282.3" y2="471.9" stroke="#0072BD" stroke-width="1.7" />
<text x="286.4" y="474.6" font-size="7.6" text-anchor="start" font-weight="bold" font-style="normal" fill="#000" stroke="#000" style="stroke:none" style="stroke-width:0.2px">60%</text>
<line x1="266.6" y1="481.8" x2="282.3" y2="481.8" stroke="#D95319" stroke-width="1.7" />
<text x="286.4" y="484.5" font-size="7.6" text-anchor="start" font-weight="bold" font-style="normal" fill="#000" stroke="#000" style="stroke:none" style="stroke-width:0.2px">70%</text>
<line x1="266.6" y1="491.8" x2="282.3" y2="491.8" stroke="#EDB120" stroke-width="1.7" />
<text x="286.4" y="494.5" font-size="7.6" text-anchor="start" font-weight="bold" font-style="normal" fill="#000" stroke="#000" style="stroke:none" style="stroke-width:0.2px">80%</text>
<rect x="40.6" y="387.6" width="71.8" height="62.3" fill="#fff" stroke="none" stroke-width="0" />
<polyline points="40.6,393.71 45.4,393.71" fill="none" stroke="#2f8ad0" stroke-width="1.1" stroke-linejoin="round" stroke-linecap="butt" />
<path d="M45.4,393.71 C45.55,394.39 45.7,395.07 46.3,397.82 C46.9,400.57 47.82,405.76 49,410.19 C50.18,414.62 51.48,420.41 53.4,424.4 C55.32,428.39 56.95,431.17 60.5,434.12 C64.05,437.07 70.27,440.01 74.7,442.09 C79.13,444.18 83.62,445.42 87.1,446.62 C90.58,447.82 93.33,448.83 95.6,449.28 C97.87,449.72 97.9,449.29 100.7,449.3 C103.5,449.3 110.45,449.3 112.4,449.3" fill="none" stroke="#2f8ad0" stroke-width="1.1" stroke-linejoin="round" />
<line x1="45.3" y1="449.9" x2="45.3" y2="448.4" stroke="#aaaaaa" stroke-width="0.8" />
<line x1="45.3" y1="387.6" x2="45.3" y2="389.1" stroke="#aaaaaa" stroke-width="0.8" />
<line x1="74.1" y1="449.9" x2="74.1" y2="448.4" stroke="#aaaaaa" stroke-width="0.8" />
<line x1="74.1" y1="387.6" x2="74.1" y2="389.1" stroke="#aaaaaa" stroke-width="0.8" />
<line x1="102.9" y1="449.9" x2="102.9" y2="448.4" stroke="#aaaaaa" stroke-width="0.8" />
<line x1="102.9" y1="387.6" x2="102.9" y2="389.1" stroke="#aaaaaa" stroke-width="0.8" />
<line x1="40.6" y1="449.9" x2="42.1" y2="449.9" stroke="#aaaaaa" stroke-width="0.8" />
<line x1="112.4" y1="449.9" x2="110.9" y2="449.9" stroke="#aaaaaa" stroke-width="0.8" />
<line x1="40.6" y1="429.13" x2="42.1" y2="429.13" stroke="#aaaaaa" stroke-width="0.8" />
<line x1="112.4" y1="429.13" x2="110.9" y2="429.13" stroke="#aaaaaa" stroke-width="0.8" />
<line x1="40.6" y1="408.37" x2="42.1" y2="408.37" stroke="#aaaaaa" stroke-width="0.8" />
<line x1="112.4" y1="408.37" x2="110.9" y2="408.37" stroke="#aaaaaa" stroke-width="0.8" />
<line x1="40.6" y1="387.6" x2="42.1" y2="387.6" stroke="#aaaaaa" stroke-width="0.8" />
<line x1="112.4" y1="387.6" x2="110.9" y2="387.6" stroke="#aaaaaa" stroke-width="0.8" />
<rect x="40.6" y="387.6" width="71.8" height="62.3" fill="none" stroke="#aaaaaa" stroke-width="0.8" />
<text x="45.3" y="457.8" font-size="6.3" text-anchor="middle" font-weight="bold" font-style="normal" fill="#000" stroke="#000" style="stroke:none" >120</text>
<text x="74.1" y="457.8" font-size="6.3" text-anchor="middle" font-weight="bold" font-style="normal" fill="#000" stroke="#000" style="stroke:none" >120.003</text>
<text x="102.9" y="457.8" font-size="6.3" text-anchor="middle" font-weight="bold" font-style="normal" fill="#000" stroke="#000" style="stroke:none" >120.006</text>
<text x="38.6" y="452.1" font-size="6.3" text-anchor="end" font-weight="bold" font-style="normal" fill="#000" stroke="#000" style="stroke:none" >0</text>
<text x="38.6" y="431.33" font-size="6.3" text-anchor="end" font-weight="bold" font-style="normal" fill="#000" stroke="#000" style="stroke:none" >0.5</text>
<text x="38.6" y="410.57" font-size="6.3" text-anchor="end" font-weight="bold" font-style="normal" fill="#000" stroke="#000" style="stroke:none" >1</text>
<text x="38.6" y="389.8" font-size="6.3" text-anchor="end" font-weight="bold" font-style="normal" fill="#000" stroke="#000" style="stroke:none" >1.5</text>
<circle cx="45.4" cy="393.71" r="1.35" fill="#8B0A0A" stroke="#300" stroke-width="0.5"/>
<circle cx="100.7" cy="449.3" r="1.5" fill="#8B0A0A" stroke="#300" stroke-width="0.5"/>
<text x="48.2" y="396.3" font-size="7" font-weight="bold" font-style="italic" style="stroke:none">T<tspan font-size="4.6" dy="1.1">ef</tspan></text>
<text x="94.9" y="446.2" font-size="7" font-weight="bold" font-style="italic" style="stroke:none">T<tspan font-size="4.4" dy="1.1">e-room</tspan></text>
<rect x="126" y="387.6" width="71.8" height="62.3" fill="#fff" stroke="none" stroke-width="0" />
<polyline points="126,393.71 130.8,393.71" fill="none" stroke="#E06A3A" stroke-width="1.1" stroke-linejoin="round" stroke-linecap="butt" />
<path d="M130.8,393.71 C130.95,394.39 131.1,395.07 131.7,397.82 C132.3,400.57 133.22,405.76 134.4,410.19 C135.58,414.62 136.88,420.41 138.8,424.4 C140.72,428.39 142.35,431.17 145.9,434.12 C149.45,437.07 155.67,440.01 160.1,442.09 C164.53,444.18 169.02,445.42 172.5,446.62 C175.98,447.82 178.73,448.83 181,449.28 C183.27,449.72 183.3,449.29 186.1,449.3 C188.9,449.3 195.85,449.3 197.8,449.3" fill="none" stroke="#E06A3A" stroke-width="1.1" stroke-linejoin="round" />
<line x1="130.7" y1="449.9" x2="130.7" y2="448.4" stroke="#aaaaaa" stroke-width="0.8" />
<line x1="130.7" y1="387.6" x2="130.7" y2="389.1" stroke="#aaaaaa" stroke-width="0.8" />
<line x1="159.5" y1="449.9" x2="159.5" y2="448.4" stroke="#aaaaaa" stroke-width="0.8" />
<line x1="159.5" y1="387.6" x2="159.5" y2="389.1" stroke="#aaaaaa" stroke-width="0.8" />
<line x1="188.3" y1="449.9" x2="188.3" y2="448.4" stroke="#aaaaaa" stroke-width="0.8" />
<line x1="188.3" y1="387.6" x2="188.3" y2="389.1" stroke="#aaaaaa" stroke-width="0.8" />
<line x1="126" y1="449.9" x2="127.5" y2="449.9" stroke="#aaaaaa" stroke-width="0.8" />
<line x1="197.8" y1="449.9" x2="196.3" y2="449.9" stroke="#aaaaaa" stroke-width="0.8" />
<line x1="126" y1="429.13" x2="127.5" y2="429.13" stroke="#aaaaaa" stroke-width="0.8" />
<line x1="197.8" y1="429.13" x2="196.3" y2="429.13" stroke="#aaaaaa" stroke-width="0.8" />
<line x1="126" y1="408.37" x2="127.5" y2="408.37" stroke="#aaaaaa" stroke-width="0.8" />
<line x1="197.8" y1="408.37" x2="196.3" y2="408.37" stroke="#aaaaaa" stroke-width="0.8" />
<line x1="126" y1="387.6" x2="127.5" y2="387.6" stroke="#aaaaaa" stroke-width="0.8" />
<line x1="197.8" y1="387.6" x2="196.3" y2="387.6" stroke="#aaaaaa" stroke-width="0.8" />
<rect x="126" y="387.6" width="71.8" height="62.3" fill="none" stroke="#aaaaaa" stroke-width="0.8" />
<text x="130.7" y="457.8" font-size="6.3" text-anchor="middle" font-weight="bold" font-style="normal" fill="#000" stroke="#000" style="stroke:none" >140</text>
<text x="159.5" y="457.8" font-size="6.3" text-anchor="middle" font-weight="bold" font-style="normal" fill="#000" stroke="#000" style="stroke:none" >140.003</text>
<text x="188.3" y="457.8" font-size="6.3" text-anchor="middle" font-weight="bold" font-style="normal" fill="#000" stroke="#000" style="stroke:none" >140.006</text>
<text x="124" y="452.1" font-size="6.3" text-anchor="end" font-weight="bold" font-style="normal" fill="#000" stroke="#000" style="stroke:none" >0</text>
<text x="124" y="431.33" font-size="6.3" text-anchor="end" font-weight="bold" font-style="normal" fill="#000" stroke="#000" style="stroke:none" >0.5</text>
<text x="124" y="410.57" font-size="6.3" text-anchor="end" font-weight="bold" font-style="normal" fill="#000" stroke="#000" style="stroke:none" >1</text>
<text x="124" y="389.8" font-size="6.3" text-anchor="end" font-weight="bold" font-style="normal" fill="#000" stroke="#000" style="stroke:none" >1.5</text>
<circle cx="130.8" cy="393.71" r="1.35" fill="#8B0A0A" stroke="#300" stroke-width="0.5"/>
<circle cx="186.1" cy="449.3" r="1.5" fill="#8B0A0A" stroke="#300" stroke-width="0.5"/>
<text x="133.6" y="396.3" font-size="7" font-weight="bold" font-style="italic" style="stroke:none">T<tspan font-size="4.6" dy="1.1">ef</tspan></text>
<text x="180.3" y="446.2" font-size="7" font-weight="bold" font-style="italic" style="stroke:none">T<tspan font-size="4.4" dy="1.1">e-room</tspan></text>
<rect x="211.8" y="387.6" width="71.8" height="62.3" fill="#fff" stroke="none" stroke-width="0" />
<polyline points="211.8,393.71 216.6,393.71" fill="none" stroke="#F0B933" stroke-width="1.1" stroke-linejoin="round" stroke-linecap="butt" />
<path d="M216.6,393.71 C216.75,394.39 216.9,395.07 217.5,397.82 C218.1,400.57 219.02,405.76 220.2,410.19 C221.38,414.62 222.68,420.41 224.6,424.4 C226.52,428.39 228.15,431.17 231.7,434.12 C235.25,437.07 241.47,440.01 245.9,442.09 C250.33,444.18 254.82,445.42 258.3,446.62 C261.78,447.82 264.53,448.83 266.8,449.28 C269.07,449.72 269.1,449.29 271.9,449.3 C274.7,449.3 281.65,449.3 283.6,449.3" fill="none" stroke="#F0B933" stroke-width="1.1" stroke-linejoin="round" />
<line x1="216.5" y1="449.9" x2="216.5" y2="448.4" stroke="#aaaaaa" stroke-width="0.8" />
<line x1="216.5" y1="387.6" x2="216.5" y2="389.1" stroke="#aaaaaa" stroke-width="0.8" />
<line x1="245.3" y1="449.9" x2="245.3" y2="448.4" stroke="#aaaaaa" stroke-width="0.8" />
<line x1="245.3" y1="387.6" x2="245.3" y2="389.1" stroke="#aaaaaa" stroke-width="0.8" />
<line x1="274.1" y1="449.9" x2="274.1" y2="448.4" stroke="#aaaaaa" stroke-width="0.8" />
<line x1="274.1" y1="387.6" x2="274.1" y2="389.1" stroke="#aaaaaa" stroke-width="0.8" />
<line x1="211.8" y1="449.9" x2="213.3" y2="449.9" stroke="#aaaaaa" stroke-width="0.8" />
<line x1="283.6" y1="449.9" x2="282.1" y2="449.9" stroke="#aaaaaa" stroke-width="0.8" />
<line x1="211.8" y1="429.13" x2="213.3" y2="429.13" stroke="#aaaaaa" stroke-width="0.8" />
<line x1="283.6" y1="429.13" x2="282.1" y2="429.13" stroke="#aaaaaa" stroke-width="0.8" />
<line x1="211.8" y1="408.37" x2="213.3" y2="408.37" stroke="#aaaaaa" stroke-width="0.8" />
<line x1="283.6" y1="408.37" x2="282.1" y2="408.37" stroke="#aaaaaa" stroke-width="0.8" />
<line x1="211.8" y1="387.6" x2="213.3" y2="387.6" stroke="#aaaaaa" stroke-width="0.8" />
<line x1="283.6" y1="387.6" x2="282.1" y2="387.6" stroke="#aaaaaa" stroke-width="0.8" />
<rect x="211.8" y="387.6" width="71.8" height="62.3" fill="none" stroke="#aaaaaa" stroke-width="0.8" />
<text x="216.5" y="457.8" font-size="6.3" text-anchor="middle" font-weight="bold" font-style="normal" fill="#000" stroke="#000" style="stroke:none" >160</text>
<text x="245.3" y="457.8" font-size="6.3" text-anchor="middle" font-weight="bold" font-style="normal" fill="#000" stroke="#000" style="stroke:none" >160.003</text>
<text x="274.1" y="457.8" font-size="6.3" text-anchor="middle" font-weight="bold" font-style="normal" fill="#000" stroke="#000" style="stroke:none" >160.006</text>
<text x="209.8" y="452.1" font-size="6.3" text-anchor="end" font-weight="bold" font-style="normal" fill="#000" stroke="#000" style="stroke:none" >0</text>
<text x="209.8" y="431.33" font-size="6.3" text-anchor="end" font-weight="bold" font-style="normal" fill="#000" stroke="#000" style="stroke:none" >0.5</text>
<text x="209.8" y="410.57" font-size="6.3" text-anchor="end" font-weight="bold" font-style="normal" fill="#000" stroke="#000" style="stroke:none" >1</text>
<text x="209.8" y="389.8" font-size="6.3" text-anchor="end" font-weight="bold" font-style="normal" fill="#000" stroke="#000" style="stroke:none" >1.5</text>
<circle cx="216.6" cy="393.71" r="1.35" fill="#8B0A0A" stroke="#300" stroke-width="0.5"/>
<circle cx="271.9" cy="449.3" r="1.5" fill="#8B0A0A" stroke="#300" stroke-width="0.5"/>
<text x="219.4" y="396.3" font-size="7" font-weight="bold" font-style="italic" style="stroke:none">T<tspan font-size="4.6" dy="1.1">ef</tspan></text>
<text x="266.1" y="446.2" font-size="7" font-weight="bold" font-style="italic" style="stroke:none">T<tspan font-size="4.4" dy="1.1">e-room</tspan></text>
<rect x="40.8" y="484.2" width="7.5" height="19.5" fill="none" stroke="#1DB553" stroke-width="1.1" stroke-dasharray="1.3 1.1" rx="1.5"/>
<line x1="45" y1="485.2" x2="69.91" y2="464.17" stroke="#1DB553" stroke-width="1.3" />
<polygon points="74.5,460.3 71.59,466.16 68.24,462.18" fill="#1DB553"/>
<rect x="107.9" y="484.2" width="7.1" height="19.5" fill="none" stroke="#1DB553" stroke-width="1.1" stroke-dasharray="1.3 1.1" rx="1.5"/>
<line x1="110.3" y1="484.7" x2="153.34" y2="463" stroke="#1DB553" stroke-width="1.3" />
<polygon points="158.7,460.3 154.51,465.32 152.17,460.68" fill="#1DB553"/>
<rect x="173.2" y="484.2" width="7.5" height="19.5" fill="none" stroke="#1DB553" stroke-width="1.1" stroke-dasharray="1.3 1.1" rx="1.5"/>
<line x1="176.3" y1="484.7" x2="238.55" y2="462.33" stroke="#1DB553" stroke-width="1.3" />
<polygon points="244.2,460.3 239.43,464.78 237.67,459.88" fill="#1DB553"/>
<line x1="376.36" y1="502.9" x2="376.36" y2="500.7" stroke="#cdcdcd" stroke-width="1.1" />
<line x1="376.36" y1="377.1" x2="376.36" y2="379.3" stroke="#cdcdcd" stroke-width="1.1" />
<line x1="405.08" y1="502.9" x2="405.08" y2="500.7" stroke="#cdcdcd" stroke-width="1.1" />
<line x1="405.08" y1="377.1" x2="405.08" y2="379.3" stroke="#cdcdcd" stroke-width="1.1" />
<line x1="433.8" y1="502.9" x2="433.8" y2="500.7" stroke="#cdcdcd" stroke-width="1.1" />
<line x1="433.8" y1="377.1" x2="433.8" y2="379.3" stroke="#cdcdcd" stroke-width="1.1" />
<line x1="462.52" y1="502.9" x2="462.52" y2="500.7" stroke="#cdcdcd" stroke-width="1.1" />
<line x1="462.52" y1="377.1" x2="462.52" y2="379.3" stroke="#cdcdcd" stroke-width="1.1" />
<line x1="491.24" y1="502.9" x2="491.24" y2="500.7" stroke="#cdcdcd" stroke-width="1.1" />
<line x1="491.24" y1="377.1" x2="491.24" y2="379.3" stroke="#cdcdcd" stroke-width="1.1" />
<line x1="362" y1="502.9" x2="364.2" y2="502.9" stroke="#cdcdcd" stroke-width="1.1" />
<line x1="505.6" y1="502.9" x2="503.4" y2="502.9" stroke="#cdcdcd" stroke-width="1.1" />
<line x1="362" y1="480.03" x2="364.2" y2="480.03" stroke="#cdcdcd" stroke-width="1.1" />
<line x1="505.6" y1="480.03" x2="503.4" y2="480.03" stroke="#cdcdcd" stroke-width="1.1" />
<line x1="362" y1="457.15" x2="364.2" y2="457.15" stroke="#cdcdcd" stroke-width="1.1" />
<line x1="505.6" y1="457.15" x2="503.4" y2="457.15" stroke="#cdcdcd" stroke-width="1.1" />
<line x1="362" y1="434.28" x2="364.2" y2="434.28" stroke="#cdcdcd" stroke-width="1.1" />
<line x1="505.6" y1="434.28" x2="503.4" y2="434.28" stroke="#cdcdcd" stroke-width="1.1" />
<line x1="362" y1="411.41" x2="364.2" y2="411.41" stroke="#cdcdcd" stroke-width="1.1" />
<line x1="505.6" y1="411.41" x2="503.4" y2="411.41" stroke="#cdcdcd" stroke-width="1.1" />
<line x1="362" y1="388.54" x2="364.2" y2="388.54" stroke="#cdcdcd" stroke-width="1.1" />
<line x1="505.6" y1="388.54" x2="503.4" y2="388.54" stroke="#cdcdcd" stroke-width="1.1" />
<rect x="362" y="377.1" width="143.6" height="125.8" fill="none" stroke="#cdcdcd" stroke-width="1.9" />
<polyline points="376.5,502.9 376.5,385.2" fill="none" stroke="#0072BD" stroke-width="1.7" stroke-linejoin="round" stroke-linecap="butt" />
<path d="M376.5,385.2 C376.57,389.33 376.77,402.95 376.9,410 C377.03,417.05 377.03,422.58 377.3,427.5 C377.57,432.42 378.02,435.75 378.5,439.5 C378.98,443.25 379.58,447.32 380.2,450 C380.82,452.68 381.48,454.15 382.2,455.6 C382.92,457.05 383.1,457.45 384.5,458.7 C385.9,459.95 388.33,461.88 390.6,463.1 C392.87,464.32 395.2,465.08 398.1,466 C401,466.92 403.83,467.77 408,468.6 C412.17,469.43 417.77,470.4 423.1,471 C428.43,471.6 432.18,471.68 440,472.2 C447.82,472.72 459.07,473.6 470,474.1 C480.93,474.6 499.67,475.02 505.6,475.2" fill="none" stroke="#0072BD" stroke-width="1.7" stroke-linejoin="round" />
<polyline points="376.5,502.9 377.3,447.7" fill="none" stroke="#D95319" stroke-width="1.7" stroke-linejoin="round" stroke-linecap="butt" />
<path d="M377.3,447.7 C377.75,449.02 379.05,453.67 380,455.6 C380.95,457.53 381.23,457.93 383,459.3 C384.77,460.67 388.08,462.57 390.6,463.8 C393.12,465.03 395.2,465.87 398.1,466.7 C401,467.53 403.83,468.13 408,468.8 C412.17,469.47 417.77,470.18 423.1,470.7 C428.43,471.22 432.18,471.38 440,471.9 C447.82,472.42 459.07,473.3 470,473.8 C480.93,474.3 499.67,474.72 505.6,474.9" fill="none" stroke="#D95319" stroke-width="1.7" stroke-linejoin="round" />
<polyline points="362,502.4 376.3,502.4 380.6,470" fill="none" stroke="#EDB120" stroke-width="1.6" stroke-linejoin="round" stroke-linecap="butt" />
<path d="M380.6,470 C381.17,470.05 382.43,470.17 384,470.3 C385.57,470.43 387.33,470.6 390,470.8 C392.67,471 397,471.28 400,471.5 C403,471.72 401.33,471.77 408,472.1 C414.67,472.43 429.67,473.08 440,473.5 C450.33,473.92 459.07,474.23 470,474.6 C480.93,474.97 499.67,475.52 505.6,475.7" fill="none" stroke="#EDB120" stroke-width="1.6" stroke-linejoin="round" />
<text x="376.36" y="515.8" font-size="11" text-anchor="middle" font-weight="bold" font-style="normal" fill="#000" stroke="#000" >0</text>
<text x="405.08" y="515.8" font-size="11" text-anchor="middle" font-weight="bold" font-style="normal" fill="#000" stroke="#000" >0.2</text>
<text x="433.8" y="515.8" font-size="11" text-anchor="middle" font-weight="bold" font-style="normal" fill="#000" stroke="#000" >0.4</text>
<text x="462.52" y="515.8" font-size="11" text-anchor="middle" font-weight="bold" font-style="normal" fill="#000" stroke="#000" >0.6</text>
<text x="491.24" y="515.8" font-size="11" text-anchor="middle" font-weight="bold" font-style="normal" fill="#000" stroke="#000" >0.8</text>
<text x="359.4" y="506.7" font-size="11" text-anchor="end" font-weight="bold" font-style="normal" fill="#000" stroke="#000" >0</text>
<text x="359.4" y="483.83" font-size="11" text-anchor="end" font-weight="bold" font-style="normal" fill="#000" stroke="#000" >2</text>
<text x="359.4" y="460.95" font-size="11" text-anchor="end" font-weight="bold" font-style="normal" fill="#000" stroke="#000" >4</text>
<text x="359.4" y="438.08" font-size="11" text-anchor="end" font-weight="bold" font-style="normal" fill="#000" stroke="#000" >6</text>
<text x="359.4" y="415.21" font-size="11" text-anchor="end" font-weight="bold" font-style="normal" fill="#000" stroke="#000" >8</text>
<text x="359.4" y="392.34" font-size="11" text-anchor="end" font-weight="bold" font-style="normal" fill="#000" stroke="#000" >10</text>
<text x="434" y="530.1" font-size="12" text-anchor="middle" font-weight="bold" font-style="normal" fill="#000" stroke="#000" >Time (ns)</text>
<text transform="translate(344.1,510.6) rotate(-90)" font-size="12.4" font-weight="bold">Electron temperature (eV)</text>
<text x="386.4" y="391.7" font-size="15" text-anchor="start" font-weight="bold" font-style="normal" fill="#000" stroke="#000" >(e)</text>
<rect x="458.8" y="382.8" width="42" height="33.6" fill="#fff" stroke="#5c5c5c" stroke-width="1.2" />
<line x1="462.1" y1="389.5" x2="478.7" y2="389.5" stroke="#0072BD" stroke-width="1.7" />
<text x="482.1" y="392.2" font-size="7.6" text-anchor="start" font-weight="bold" font-style="normal" fill="#000" stroke="#000" style="stroke:none" style="stroke-width:0.2px">60%</text>
<line x1="462.1" y1="399.3" x2="478.7" y2="399.3" stroke="#D95319" stroke-width="1.7" />
<text x="482.1" y="402" font-size="7.6" text-anchor="start" font-weight="bold" font-style="normal" fill="#000" stroke="#000" style="stroke:none" style="stroke-width:0.2px">70%</text>
<line x1="462.1" y1="409" x2="478.7" y2="409" stroke="#EDB120" stroke-width="1.7" />
<text x="482.1" y="411.7" font-size="7.6" text-anchor="start" font-weight="bold" font-style="normal" fill="#000" stroke="#000" style="stroke:none" style="stroke-width:0.2px">80%</text></svg>
</body></html>
